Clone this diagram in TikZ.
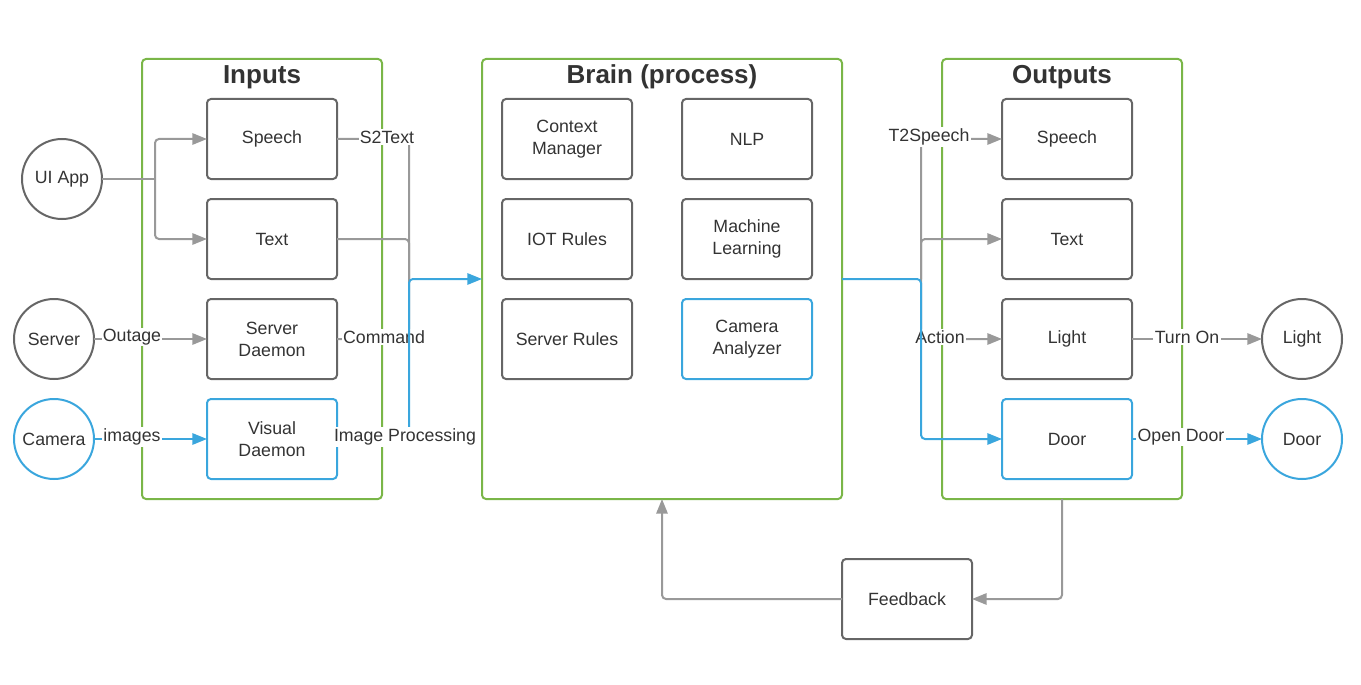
\documentclass[tikz,border=0pt]{standalone}
\usepackage{fontspec}
\setmainfont{Liberation Sans}
\usetikzlibrary{positioning,arrows.meta}

\definecolor{framegreen}{HTML}{7AB648}
\definecolor{lineblue}{HTML}{3AA6DD}
\definecolor{linegray}{HTML}{999999}
\definecolor{boxgray}{HTML}{666666}
\definecolor{textgray}{HTML}{333333}

\tikzset{
  txt/.style={text=textgray, font=\fontsize{13.3}{16.5}\selectfont},
  box/.style={txt, draw=boxgray, line width=1.5pt, rounded corners=3pt, minimum width=97.5pt, minimum height=60pt, align=center, inner sep=0pt, outer sep=0pt},
  bluebox/.style={box, draw=lineblue},
  circ/.style={txt, draw=boxgray, circle, line width=1.5pt, minimum size=60pt, inner sep=0pt, outer sep=0pt},
  bluecirc/.style={circ, draw=lineblue},
  group/.style={draw=framegreen, line width=1.5pt, rounded corners=3pt, minimum width=180pt, minimum height=330pt, outer sep=0pt},
  title/.style={text=textgray, font=\fontsize{19.5}{22}\selectfont\bfseries},
  lbl/.style={txt, fill=white, inner sep=1pt},
  line/.style={draw=linegray, line width=1.5pt, rounded corners=3pt},
  flow/.style={line, -{Triangle[length=11pt,width=8.5pt]}},
  flowblue/.style={flow, draw=lineblue},
}

\begin{document}
\begin{tikzpicture}[x=0.75pt, y=-0.75pt]
  \useasboundingbox (0,0) rectangle (1361,685);

  % Groups
  \node[group]                        (inputs)  at (262,279) {};
  \node[group, minimum width=270pt]   (brain)   at (662,279) {};
  \node[group]                        (outputs) at (1062,279) {};
  \node[title] (inputs-title)  at (262,77)  {Inputs};
  \node[title] (brain-title)   at (662,77)  {Brain (process)};
  \node[title] (outputs-title) at (1062,77) {Outputs};

  % Inputs
  \node[box]                              (in-speech) at (272,139) {Speech};
  \node[box, below=15pt of in-speech]     (in-text)   {Text};
  \node[box, below=15pt of in-text]       (in-server) {Server\\Daemon};
  \node[bluebox, below=15pt of in-server] (in-visual) {Visual\\Daemon};

  % Brain
  \node[box]                               (ctx)      at (567,139) {Context\\Manager};
  \node[box, right=37.5pt of ctx]          (nlp)      {NLP};
  \node[box, below=15pt of ctx]            (iot)      {IOT Rules};
  \node[box, below=15pt of nlp]            (ml)       {Machine\\Learning};
  \node[box, below=15pt of iot]            (srv-rules) {Server Rules};
  \node[bluebox, below=15pt of ml]         (cam-an)   {Camera\\Analyzer};

  % Outputs
  \node[box]                                (out-speech) at (1067,139) {Speech};
  \node[box, below=15pt of out-speech]      (out-text)   {Text};
  \node[box, below=15pt of out-text]        (out-light)  {Light};
  \node[bluebox, below=15pt of out-light]   (out-door)   {Door};

  % Sources and sinks
  \node[circ]     (uiapp)  at (62,179)   {UI App};
  \node[circ]     (server) at (54,339)   {Server};
  \node[bluecirc] (camera) at (54,439)   {Camera};
  \node[circ]     (light)  at (1302,339) {Light};
  \node[bluecirc] (door)   at (1302,439) {Door};
  \node[box]      (feedback) at (907,599) {Feedback};

  \coordinate (ui-split) at (155,179);
  \coordinate (in-join)  at (409,279);
  \coordinate (out-join) at (921,279);

  % Connect the nodes
  \draw[line] (uiapp.east) -- (ui-split);
  \draw[flow] (ui-split) |- (in-speech.west);
  \draw[flow] (ui-split) |- (in-text.west);
  \draw[flow] (server.east) -- (in-server.west);
  \draw[flowblue] (camera.east) -- (in-visual.west);
  \node[lbl] (l-outage) at (132,337) {Outage};
  \node[lbl] (l-images) at (132,437) {images};

  \draw[line] (in-speech.east) -| (in-join);
  \draw[line] (in-text.east) -| (in-join);
  \draw[line] (in-server.east) -| (in-join);
  \node[lbl] (l-s2text)  at (387,137) {S2Text};
  \node[lbl] (l-command) at (384,337) {Command};
  \draw[flowblue] (in-visual.east) -| (in-join) -- (brain.west);
  \node[lbl] (l-imgproc) at (405,437) {Image Processing};

  \draw[flow] (out-join) |- (out-speech.west);
  \draw[flow] (out-join) |- (out-text.west);
  \draw[flow] (out-join) |- (out-light.west);
  \node[lbl] (l-t2speech) at (929,137) {T2Speech};
  \node[lbl] (l-action)   at (940,337) {Action};
  \draw[flowblue] (brain.east) -- (out-join) |- (out-door.west);

  \draw[flow] (out-light.east) -- (light.west);
  \draw[flowblue] (out-door.east) -- (door.west);
  \node[lbl] (l-turnon)   at (1187,337) {Turn On};
  \node[lbl] (l-opendoor) at (1181,437) {Open Door};

  % Feedback loop
  \draw[flow] (outputs.south) |- (feedback.east);
  \draw[flow] (feedback.west) -| (brain.south);

\end{tikzpicture}
\end{document}
